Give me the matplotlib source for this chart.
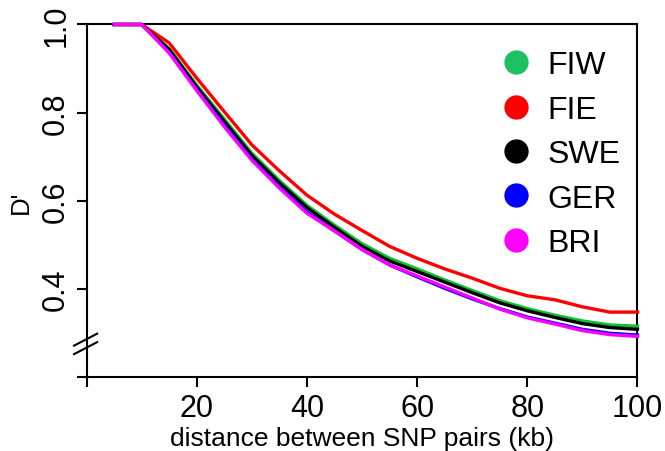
import matplotlib
matplotlib.use("Agg")
import matplotlib.pyplot as plt
from matplotlib.lines import Line2D

plt.rcParams['font.family'] = ['Liberation Sans', 'DejaVu Sans']

distance_kb = [5, 10, 15, 20, 25, 30, 35, 40, 45, 50, 55, 60, 65, 70, 75, 80, 85, 90, 95, 100]
fiw = [1, 1, 0.945, 0.862, 0.785, 0.708, 0.646, 0.590, 0.545, 0.503, 0.470, 0.446, 0.421, 0.397, 0.374, 0.356, 0.341, 0.328, 0.319, 0.316]
fie = [1, 1, 0.958, 0.878, 0.802, 0.727, 0.668, 0.613, 0.570, 0.533, 0.497, 0.470, 0.446, 0.425, 0.402, 0.385, 0.376, 0.360, 0.348, 0.348]
swe = [1, 1, 0.943, 0.858, 0.780, 0.703, 0.641, 0.585, 0.540, 0.497, 0.464, 0.440, 0.416, 0.392, 0.369, 0.351, 0.336, 0.322, 0.313, 0.309]
ger = [1, 1, 0.937, 0.852, 0.772, 0.695, 0.632, 0.575, 0.532, 0.490, 0.455, 0.428, 0.402, 0.378, 0.356, 0.337, 0.323, 0.309, 0.300, 0.296]
bri = [1, 1, 0.935, 0.850, 0.768, 0.692, 0.629, 0.572, 0.532, 0.490, 0.455, 0.430, 0.405, 0.380, 0.355, 0.335, 0.321, 0.306, 0.297, 0.293]

series_names = ['FIW', 'FIE', 'SWE', 'GER', 'BRI']
series_values = [fiw, fie, swe, ger, bri]
line_colors = ['#0fc030', '#ff0000', '#000000', '#0000ff', '#ff00ff']
legend_colors = ['#1ec064', '#ff0000', '#000000', '#0000ff', '#ff00ff']

x_ticks = [0, 20, 40, 60, 80, 100]
x_tick_labels = ['', '20', '40', '60', '80', '100']
y_ticks = [0.2, 0.4, 0.6, 0.8, 1.0]
y_tick_labels = ['', '0.4', '0.6', '0.8', '1.0']

fig = plt.figure(figsize=(6.65, 4.52), dpi=100)
ax = fig.add_axes([0.1304, 0.1628, 0.8282, 0.7808])

for vals, col in zip(series_values, line_colors):
    ax.plot(distance_kb, vals, color=col, lw=2.4, solid_joinstyle='round', clip_on=False, zorder=3)

ax.set_xlim(0, 100)
ax.set_ylim(0.2, 1.0)
ax.set_xticks(x_ticks)
ax.set_xticklabels(x_tick_labels)
ax.set_yticks(y_ticks)
ax.set_yticklabels(y_tick_labels, rotation=90, va='center')

for s in ax.spines.values():
    s.set_linewidth(1.5)
ax.tick_params(direction='out', length=7.2, width=1.5, labelsize=22, pad=4)

ax.set_xlabel('distance between SNP pairs (kb)', fontsize=19, labelpad=2)
ax.set_ylabel("D'", fontsize=18.5, labelpad=6)

# axis break marks
for yc in (0.107, 0.083):
    ax.plot([-0.023, 0.019], [yc - 0.017, yc + 0.017], transform=ax.transAxes,
            color='black', lw=1.5, clip_on=False, zorder=5)

handles = [Line2D([], [], marker='o', linestyle='', color=c, markersize=16.5) for c in legend_colors]
ax.legend(handles, series_names, loc='upper right', bbox_to_anchor=(1.01, 0.99), frameon=False,
          fontsize=23, handlelength=0.8, handletextpad=0.6, labelspacing=0.45, borderpad=0.2)

fig.savefig('out.png', dpi=100)
